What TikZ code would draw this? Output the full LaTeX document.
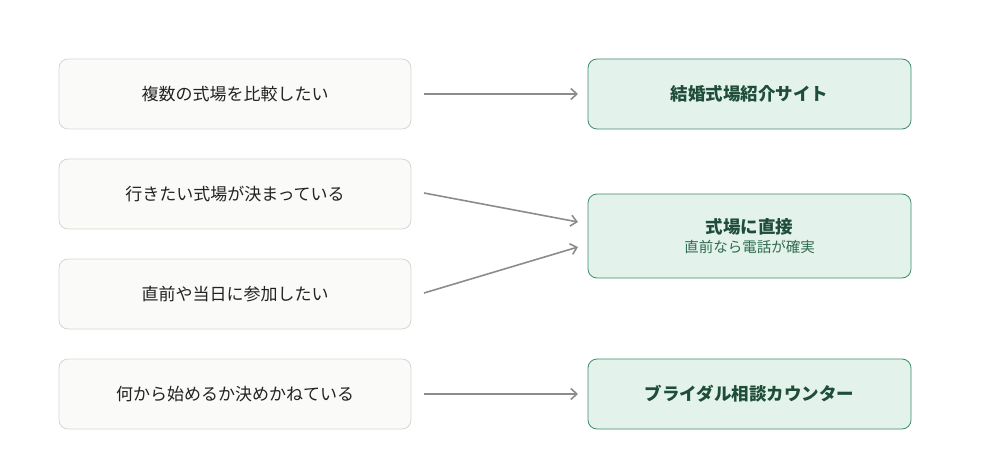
\documentclass[tikz,border=0pt]{standalone}
\usepackage{fontspec}
\setmainfont{Noto Sans CJK JP}
\usetikzlibrary{arrows.meta}
\definecolor{lfill}{HTML}{FAFAF8}
\definecolor{ldraw}{HTML}{D6D6D2}
\definecolor{rfill}{HTML}{E3F3EC}
\definecolor{rdraw}{HTML}{3F8A6B}
\definecolor{rtext}{HTML}{1F4D3A}
\definecolor{stext}{HTML}{2F6A50}
\definecolor{arr}{HTML}{8C8C8A}
\definecolor{ltext}{HTML}{222222}
\begin{document}
\begin{tikzpicture}[x=1pt,y=-1pt,
 lbox/.style={draw=ldraw,fill=lfill,rounded corners=9pt,minimum width=352pt,minimum height=70pt,line width=0.8pt,text=ltext,font=\fontsize{17}{20}\selectfont},
 rbox/.style={draw=rdraw,fill=rfill,rounded corners=9pt,minimum width=323pt,line width=0.8pt,text=rtext,font=\fontsize{17.5}{21}\selectfont\bfseries,align=center},
 con/.style={draw=arr,line width=1.6pt,-{Straight Barb[length=6pt,width=11pt]}}]
\useasboundingbox (0,0) rectangle (1000,470);
\node[lbox] (l1) at (235,94) {複数の式場を比較したい};
\node[lbox] (l2) at (235,194) {行きたい式場が決まっている};
\node[lbox] (l3) at (235,294) {直前や当日に参加したい};
\node[lbox] (l4) at (235,394) {何から始めるか決めかねている};
\node[rbox,minimum height=70pt] (r1) at (749.5,94) {結婚式場紹介サイト};
\node[rbox,minimum height=84pt] (r2) at (749.5,236) {式場に直接\\[-2pt]{\fontsize{14.5}{18}\selectfont\mdseries\color{stext}直前なら電話が確実}};
\node[rbox,minimum height=70pt] (r3) at (749.5,394) {ブライダル相談カウンター};
\coordinate (a1) at (424,94); \coordinate (b1) at (578,94);
\coordinate (a2) at (424,193); \coordinate (b2) at (578,222);
\coordinate (a3) at (424,293); \coordinate (b3) at (578,247);
\coordinate (a4) at (424,394); \coordinate (b4) at (578,394);
\draw[con] (a1) -- (b1);
\draw[con] (a2) -- (b2);
\draw[con] (a3) -- (b3);
\draw[con] (a4) -- (b4);
\end{tikzpicture}
\end{document}
